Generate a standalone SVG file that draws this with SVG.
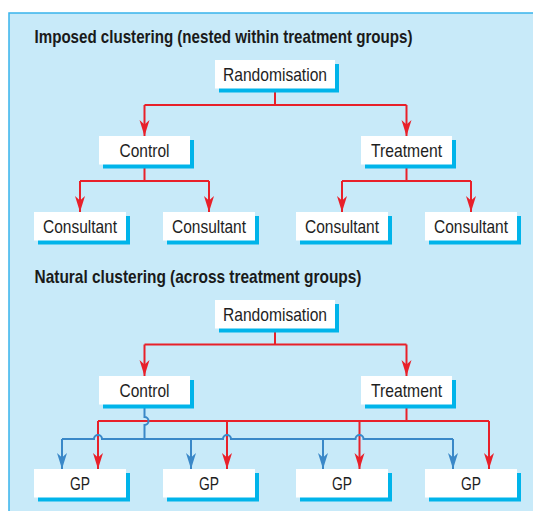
<svg xmlns="http://www.w3.org/2000/svg" width="533" height="511" viewBox="0 0 533 511">
<style>
.bg{fill:#c8eaf9;stroke:#38b4ec;stroke-width:1.5}
.sh{fill:#00b4ea}
.bx{fill:#ffffff}
.lb{font-family:"Liberation Sans",Arial,sans-serif;font-size:18.5px;fill:#1e1e1e;text-anchor:middle}
.tt{font-family:"Liberation Sans",Arial,sans-serif;font-size:18.5px;font-weight:bold;fill:#1a1a1a}
.r{fill:none;stroke:#e8202a;stroke-width:2}
.b{fill:none;stroke:#3a88c8;stroke-width:2}
.ra{fill:none;stroke:#e8202a;stroke-width:2;marker-end:url(#ar)}
.ba{fill:none;stroke:#3a88c8;stroke-width:2;marker-end:url(#ab)}
</style>
<defs>
<marker id="ar" viewBox="0 -5.5 16 11" refX="16" refY="0" markerWidth="16" markerHeight="11" markerUnits="userSpaceOnUse" orient="auto"><path d="M0,-5 L16,0 L0,5 L4.5,0 Z" fill="#e8202a"/></marker>
<marker id="ab" viewBox="0 -5.5 16 11" refX="16" refY="0" markerWidth="16" markerHeight="11" markerUnits="userSpaceOnUse" orient="auto"><path d="M0,-5 L16,0 L0,5 L4.5,0 Z" fill="#3a88c8"/></marker>
</defs>
<rect class="bg" x="9" y="13" width="530" height="505"/>
<text class="tt" x="34.5" y="42.5" textLength="378" lengthAdjust="spacingAndGlyphs">Imposed clustering (nested within treatment groups)</text>
<text class="tt" x="34.5" y="282.5" textLength="327" lengthAdjust="spacingAndGlyphs">Natural clustering (across treatment groups)</text>

<g id="connectors">
<path class="r" d="M275,88.5 V105 M144.5,105 H406.5"/>
<path class="ra" d="M144.5,105 V136"/>
<path class="ra" d="M406.5,105 V136"/>
<path class="r" d="M144.5,164.5 V181 M80,181 H209"/>
<path class="ra" d="M80,181 V212"/>
<path class="ra" d="M209,181 V212"/>
<path class="r" d="M406.5,164.5 V181 M342,181 H471"/>
<path class="ra" d="M342,181 V212"/>
<path class="ra" d="M471,181 V212"/>

<path class="r" d="M275,328.5 V344.5 M144.5,344.5 H406.5"/>
<path class="ra" d="M144.5,344.5 V376"/>
<path class="ra" d="M406.5,344.5 V376"/>

<path class="r" d="M406.5,404.5 V421 M98,421 H489"/>
<path class="ra" d="M98,421 V469"/>
<path class="ra" d="M227,421 V469"/>
<path class="ra" d="M359.5,421 V469"/>
<path class="ra" d="M489,421 V469"/>

<path class="b" d="M144.5,404.5 V417 a4,4 0 0 1 0,8 V439"/>
<path class="b" d="M62,439 H94 a4,4 0 0 1 8,0 H223 a4,4 0 0 1 8,0 H355.5 a4,4 0 0 1 8,0 H453"/>
<path class="ba" d="M62,439 V469"/>
<path class="ba" d="M191,439 V469"/>
<path class="ba" d="M323,439 V469"/>
<path class="ba" d="M453,439 V469"/>
</g>

<g id="rand1"><rect class="sh" x="219" y="64" width="120" height="28.5"/><rect class="bx" x="215" y="60" width="120" height="28.5"/><text class="lb" x="275" y="80.5" textLength="104" lengthAdjust="spacingAndGlyphs">Randomisation</text></g>
<g id="control1"><rect class="sh" x="103" y="140" width="91" height="28.5"/><rect class="bx" x="99" y="136" width="91" height="28.5"/><text class="lb" x="144.5" y="156.5" textLength="50" lengthAdjust="spacingAndGlyphs">Control</text></g>
<g id="treatment1"><rect class="sh" x="365" y="140" width="91" height="28.5"/><rect class="bx" x="361" y="136" width="91" height="28.5"/><text class="lb" x="406.5" y="156.5" textLength="71" lengthAdjust="spacingAndGlyphs">Treatment</text></g>
<g id="consultant1"><rect class="sh" x="38" y="216" width="92" height="28.5"/><rect class="bx" x="34" y="212" width="92" height="28.5"/><text class="lb" x="80" y="232.5" textLength="74" lengthAdjust="spacingAndGlyphs">Consultant</text></g>
<g id="consultant2"><rect class="sh" x="167" y="216" width="92" height="28.5"/><rect class="bx" x="163" y="212" width="92" height="28.5"/><text class="lb" x="209" y="232.5" textLength="74" lengthAdjust="spacingAndGlyphs">Consultant</text></g>
<g id="consultant3"><rect class="sh" x="300" y="216" width="92" height="28.5"/><rect class="bx" x="296" y="212" width="92" height="28.5"/><text class="lb" x="342" y="232.5" textLength="74" lengthAdjust="spacingAndGlyphs">Consultant</text></g>
<g id="consultant4"><rect class="sh" x="429" y="216" width="92" height="28.5"/><rect class="bx" x="425" y="212" width="92" height="28.5"/><text class="lb" x="471" y="232.5" textLength="74" lengthAdjust="spacingAndGlyphs">Consultant</text></g>

<g id="rand2"><rect class="sh" x="219" y="304" width="120" height="28.5"/><rect class="bx" x="215" y="300" width="120" height="28.5"/><text class="lb" x="275" y="320.5" textLength="104" lengthAdjust="spacingAndGlyphs">Randomisation</text></g>
<g id="control2"><rect class="sh" x="103" y="380" width="91" height="28.5"/><rect class="bx" x="99" y="376" width="91" height="28.5"/><text class="lb" x="144.5" y="396.5" textLength="50" lengthAdjust="spacingAndGlyphs">Control</text></g>
<g id="treatment2"><rect class="sh" x="365" y="380" width="91" height="28.5"/><rect class="bx" x="361" y="376" width="91" height="28.5"/><text class="lb" x="406.5" y="396.5" textLength="71" lengthAdjust="spacingAndGlyphs">Treatment</text></g>
<g id="gp1"><rect class="sh" x="38" y="473" width="92" height="28.5"/><rect class="bx" x="34" y="469" width="92" height="28.5"/><text class="lb" x="80" y="489.5" textLength="20" lengthAdjust="spacingAndGlyphs">GP</text></g>
<g id="gp2"><rect class="sh" x="167" y="473" width="92" height="28.5"/><rect class="bx" x="163" y="469" width="92" height="28.5"/><text class="lb" x="209" y="489.5" textLength="20" lengthAdjust="spacingAndGlyphs">GP</text></g>
<g id="gp3"><rect class="sh" x="300" y="473" width="92" height="28.5"/><rect class="bx" x="296" y="469" width="92" height="28.5"/><text class="lb" x="342" y="489.5" textLength="20" lengthAdjust="spacingAndGlyphs">GP</text></g>
<g id="gp4"><rect class="sh" x="429" y="473" width="92" height="28.5"/><rect class="bx" x="425" y="469" width="92" height="28.5"/><text class="lb" x="471" y="489.5" textLength="20" lengthAdjust="spacingAndGlyphs">GP</text></g>
</svg>
